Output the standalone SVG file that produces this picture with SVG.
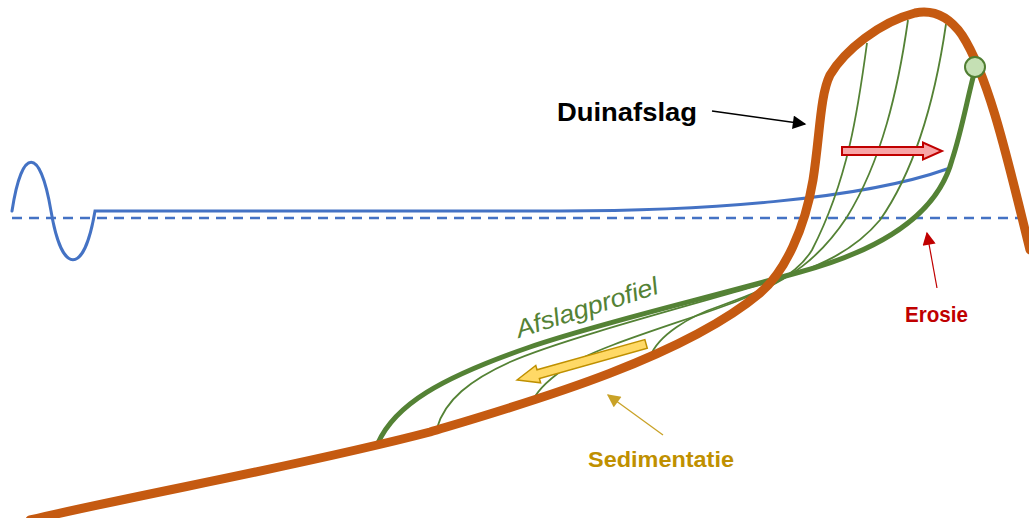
<svg xmlns="http://www.w3.org/2000/svg" width="1029" height="518" viewBox="0 0 1029 518">
  <style>
    .water { fill: none; stroke: #4472C4; stroke-width: 3; stroke-linecap: round; }
    .still { fill: none; stroke: #4472C4; stroke-width: 2.5; stroke-dasharray: 10 7; }
    .dune { fill: none; stroke: #C55A11; stroke-width: 9; stroke-linecap: round; stroke-linejoin: round; }
    .thin { fill: none; stroke: #548235; stroke-width: 1.8; }
    .profile { fill: none; stroke: #548235; stroke-width: 5; stroke-linecap: round; }
    .lbl { font-family: "Liberation Sans", Arial, sans-serif; font-weight: bold; }
  </style>
  <defs>
    <marker id="headBlack" viewBox="0 0 10 10" refX="9" refY="5" markerWidth="10" markerHeight="9" orient="auto" markerUnits="strokeWidth">
      <path d="M0,0 L10,5 L0,10 z" fill="#000"/>
    </marker>
    <marker id="headRed" viewBox="0 0 10 10" refX="9" refY="5" markerWidth="12" markerHeight="11" orient="auto" markerUnits="strokeWidth">
      <path d="M0,0 L10,5 L0,10 z" fill="#C00000"/>
    </marker>
    <marker id="headGold" viewBox="0 0 10 10" refX="9" refY="5" markerWidth="12" markerHeight="11" orient="auto" markerUnits="strokeWidth">
      <path d="M0,0 L10,5 L0,10 z" fill="#C9A227"/>
    </marker>
  </defs>

  <!-- still water level and wave-driven storm surge level -->
  <g id="water">
    <path class="still" d="M12,218 L1029,218"/>
    <path class="water" d="M12,211 C22,146 40,146 51,211 C62,276 84,276 95,211 L560,211 C700,211 860,200 947,169"/>
  </g>

  <!-- intermediate erosion profiles -->
  <g id="intermediate-profiles">
    <path class="thin" d="M867,43 C858,110 848,180 812,250 C795,278 760,292 720,306 C690,316 658,335 650,357"/>
    <path class="thin" d="M908,20 C898,90 882,160 847,217 C820,258 790,280 740,300 C690,320 600,345 570,365 C550,378 538,390 533,400"/>
    <path class="thin" d="M946,24 C935,100 915,170 880,220 C855,250 820,268 760,285 C680,308 560,340 510,362 C470,380 445,400 437,428"/>
  </g>

  <!-- final erosion profile -->
  <g id="afslagprofiel">
    <path class="profile" d="M378,443 C395,405 440,378 530,347 C600,323 700,300 800,272 C885,249 938,212 952,160 C962,130 968,95 975,70"/>
  </g>

  <!-- initial dune profile -->
  <g id="duinprofiel">
    <path class="dune" d="M30,520 C150,492 300,466 430,432 C520,405 680,360 760,293 C785,272 805,228 813,180 C820,135 820,95 830,75 C845,50 880,22 915,13 C935,9 950,18 962,35 C990,78 1010,170 1030,250"/>
  </g>

  <!-- pivot point at the dune top -->
  <g id="draaipunt">
    <circle cx="975" cy="67" r="10" fill="#C5E0B4" stroke="#507E32" stroke-width="2"/>
  </g>

  <!-- transport arrows -->
  <g id="erosie-pijl">
    <polygon points="842,147 923,147 923,142.5 942,151 923,159.5 923,155 842,155" fill="#F8A5A7" stroke="#C00000" stroke-width="2" stroke-linejoin="miter"/>
  </g>
  <g id="sedimentatie-pijl" transform="translate(517,380) rotate(-15.6)">
    <polygon points="0,0 22,-9 22,-4.5 134,-4.5 134,4.5 22,4.5 22,9" fill="#FFD966" stroke="#BF9000" stroke-width="1.5"/>
  </g>

  <!-- pointer lines -->
  <g id="connectors">
    <line x1="712" y1="111" x2="805" y2="124" stroke="#000" stroke-width="1.5" marker-end="url(#headBlack)"/>
    <line x1="937" y1="288" x2="927" y2="233" stroke="#C00000" stroke-width="1.2" marker-end="url(#headRed)"/>
    <line x1="663" y1="435" x2="608" y2="395" stroke="#C9A227" stroke-width="1.2" marker-end="url(#headGold)"/>
  </g>

  <!-- labels -->
  <g id="label-duinafslag">
    <text class="lbl" x="557" y="121" font-size="26.5" fill="#000" textLength="140" lengthAdjust="spacingAndGlyphs">Duinafslag</text>
  </g>
  <g id="label-erosie">
    <text class="lbl" x="905" y="322" font-size="22" fill="#C00000" textLength="63" lengthAdjust="spacingAndGlyphs">Erosie</text>
  </g>
  <g id="label-sedimentatie">
    <text class="lbl" x="588" y="467" font-size="22" fill="#BF9000" textLength="146" lengthAdjust="spacingAndGlyphs">Sedimentatie</text>
  </g>
  <g id="label-afslagprofiel">
    <text x="0" y="0" transform="translate(519,338) rotate(-17.6)" font-family="'Liberation Sans', Arial, sans-serif" font-style="italic" font-size="25" fill="#548235" textLength="148" lengthAdjust="spacingAndGlyphs">Afslagprofiel</text>
  </g>
</svg>
